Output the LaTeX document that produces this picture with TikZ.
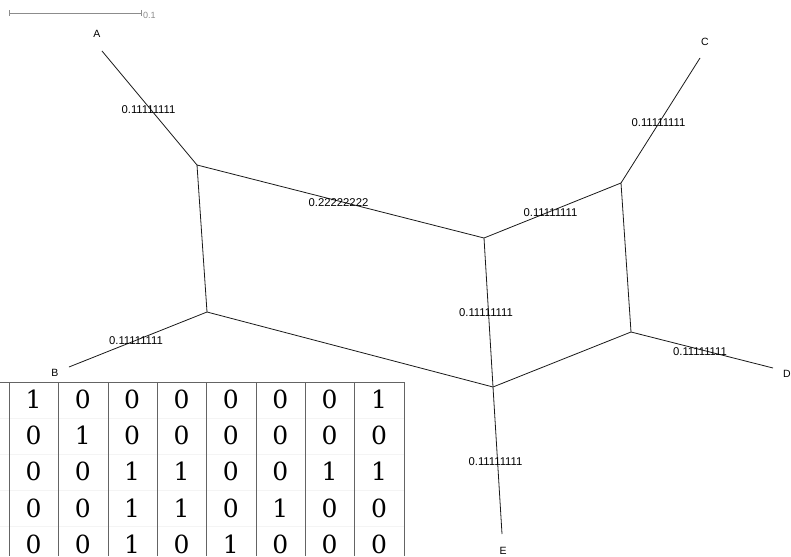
\documentclass[tikz,border=0pt]{standalone}
\usepackage{fontspec}
\setmainfont{Liberation Sans}
\newfontfamily\tabfont{DejaVu Serif}
\usetikzlibrary{arrows.meta}
\definecolor{sbar}{RGB}{140,140,140}
\definecolor{tline}{RGB}{100,100,100}
\definecolor{tfaint}{RGB}{244,244,244}

\tikzset{
  edge/.style={draw=black!90,line width=0.8pt},
  wlabel/.style={font=\fontsize{11.3}{11.3}\selectfont,inner sep=0pt},
  taxon/.style={font=\fontsize{10.5}{10.5}\selectfont,inner sep=0pt},
  cell/.style={font=\tabfont\fontsize{25}{25}\selectfont,inner sep=0pt},
}

\begin{document}
\begin{tikzpicture}[x=1pt,y=-1pt]
  \useasboundingbox (0,0) rectangle (791,556);
  % split network vertices
  \coordinate (vA) at (197,165);
  \coordinate (vM) at (484,238);
  \coordinate (vC) at (621,183);
  \coordinate (vD) at (631,332);
  \coordinate (vE) at (493,387);
  \coordinate (vB) at (207,312);
  % leaf ends
  \coordinate (lA) at (102,51);
  \coordinate (lB) at (69,367);
  \coordinate (lC) at (700,58);
  \coordinate (lD) at (773,368);
  \coordinate (lE) at (502,534);
  % taxa
  \node[taxon] (tA) at (97,34) {A};
  \node[taxon] (tB) at (55,373) {B};
  \node[taxon] (tC) at (705,42) {C};
  \node[taxon] (tD) at (787,374) {D};
  \node[taxon] (tE) at (503,551) {E};
  % edges
  \draw[edge] (lA) -- (vA);
  \draw[edge] (lB) -- (vB);
  \draw[edge] (lC) -- (vC);
  \draw[edge] (lD) -- (vD);
  \draw[edge] (lE) -- (vE);
  \draw[edge] (vA) -- (vM) -- (vC) -- (vD) -- (vE) -- (vB) -- cycle;
  \draw[edge] (vM) -- (vE);
  % edge weights
  \node[wlabel] (wA) at (148.5,110) {0.11111111};
  \node[wlabel] (wC) at (658.5,123) {0.11111111};
  \node[wlabel] (wAM) at (338.5,203) {0.22222222};
  \node[wlabel] (wMC) at (550.5,213) {0.11111111};
  \node[wlabel] (wME) at (486,313) {0.11111111};
  \node[wlabel] (wD) at (700,352) {0.11111111};
  \node[wlabel] (wB) at (136,341) {0.11111111};
  \node[wlabel] (wE) at (495.5,462) {0.11111111};
  % scale bar
  \coordinate (s0) at (9,13);
  \coordinate (s1) at (142,13);
  \draw[sbar,line width=0.8pt,{Bar[width=6pt]}-{Bar[width=6pt]}] (s0) -- (s1);
  \node[sbar,font=\fontsize{9}{9}\selectfont,anchor=west,inner sep=1pt] (sl) at (142,15.5) {0.1};
  % character matrix
  \fill[white] (0,382) rectangle (404,556);
  \foreach \y in {418,454,490,526}
    \draw[tfaint,line width=0.6pt] (0,\y) -- (404,\y);
  \draw[tline,line width=0.9pt] (0,382) -- (404,382);
  \foreach \x in {9,58,108,157,206,256,305,354,404}
    \draw[tline,line width=0.9pt] (\x,382) -- (\x,556);
  \foreach \row [count=\r] in {{1,0,0,0,0,0,0,1},{0,1,0,0,0,0,0,0},{0,0,1,1,0,0,1,1},{0,0,1,1,0,1,0,0},{0,0,1,0,1,0,0,0}}
    \foreach \v [count=\c] in \row
      \node[cell] (m\r\c) at ({33.5+49.35*(\c-1)},{362.5+36.4*\r}) {\v};
\end{tikzpicture}
\end{document}
